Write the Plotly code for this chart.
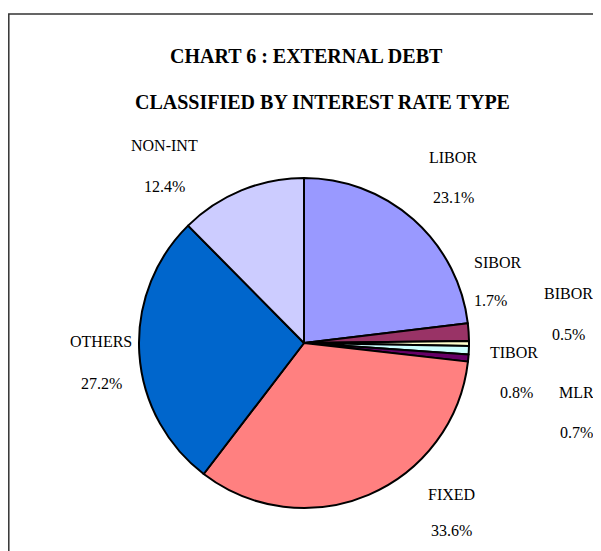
import plotly.graph_objects as go

categories = ["LIBOR", "SIBOR", "BIBOR", "TIBOR", "MLR", "FIXED", "OTHERS", "NON-INT"]
shares = [23.1, 1.7, 0.5, 0.8, 0.7, 33.6, 27.2, 12.4]
colors = ["#9999FF", "#993366", "#FFFFCC", "#CCFFFF", "#660066", "#FF8080", "#0066CC", "#CCCCFF"]

# label anchor positions in page pixels (name, value) — manual placement as in the original
name_pos = [(453, 157), (497, 262), (568, 293), (514, 352), (576, 392), (451, 494), (101, 341), (164, 145)]
val_pos = [(453, 197), (490, 300), (568, 334), (516, 392), (576, 432), (451, 530), (101, 383), (164, 187)]

OFF = 8  # page body margin
W, H = 601 - OFF, 551 - OFF
cx, cy, r = 304 - OFF, 343 - OFF, 165


def px(x):
    return (x - OFF) / W


def py(y):
    return 1 - (y - OFF) / H


fig = go.Figure(go.Pie(
    labels=categories,
    values=shares,
    sort=False,
    direction="clockwise",
    rotation=0,
    marker=dict(colors=colors, line=dict(color="black", width=2)),
    textinfo="none",
    hoverinfo="label+percent",
    domain=dict(x=[(cx - r) / W, (cx + r) / W], y=[(H - cy - r) / H, (H - cy + r) / H]),
    showlegend=False,
))

font = dict(family="Liberation Serif", size=16, color="black")
ann = []
for name, val, (nx, ny), (vx, vy) in zip(categories, shares, name_pos, val_pos):
    ann.append(dict(x=px(nx), y=py(ny), xref="paper", yref="paper", text=name,
                    showarrow=False, font=font, xanchor="center", yanchor="middle"))
    ann.append(dict(x=px(vx), y=py(vy), xref="paper", yref="paper", text=f"{val:.1f}%",
                    showarrow=False, font=font, xanchor="center", yanchor="middle"))

tfont = dict(family="Liberation Serif", size=20, color="black")
ann.append(dict(x=px(306), y=py(56), xref="paper", yref="paper", text="<b>CHART 6 : EXTERNAL DEBT</b>",
                showarrow=False, font=tfont, xanchor="center", yanchor="middle"))
ann.append(dict(x=px(322), y=py(102), xref="paper", yref="paper", text="<b>CLASSIFIED BY INTEREST RATE TYPE</b>",
                showarrow=False, font=tfont, xanchor="center", yanchor="middle"))

fig.update_layout(
    width=W, height=H,
    margin=dict(l=0, r=0, t=0, b=0),
    paper_bgcolor="white",
    plot_bgcolor="white",
    annotations=ann,
    shapes=[dict(type="rect", xref="paper", yref="paper", x0=px(8.8), x1=1.2, y0=-0.2, y1=py(14),
                 line=dict(color="#333333", width=1.5), fillcolor="rgba(0,0,0,0)", layer="below")],
)

fig.write_html("out.html")
